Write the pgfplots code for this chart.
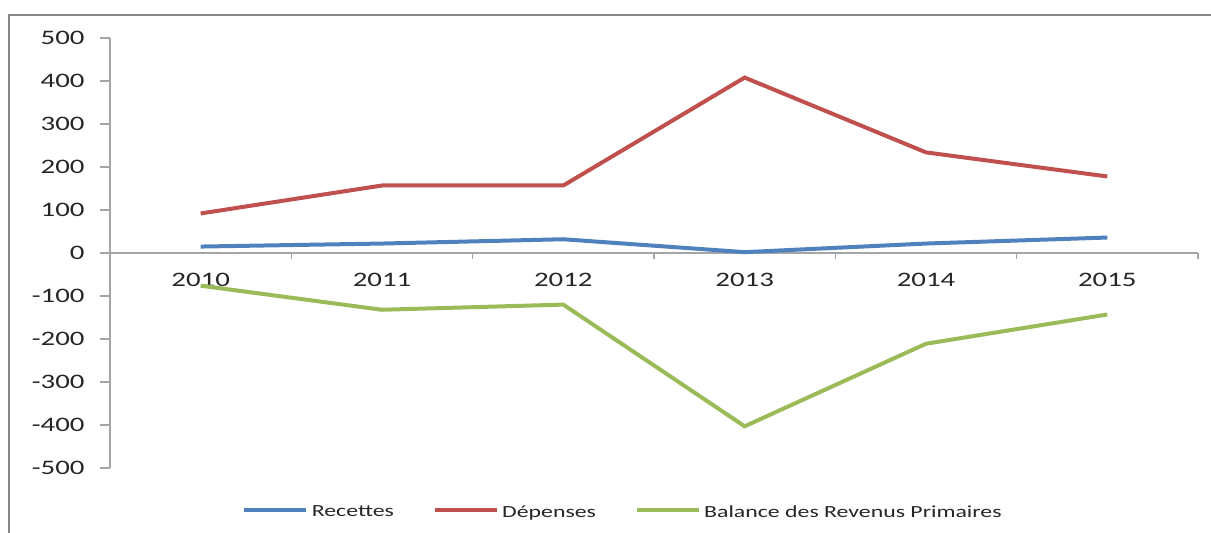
\documentclass[border=0pt]{standalone}
\usepackage{pgfplots}
\pgfplotsset{compat=1.18}
\usepackage{fontspec}
\setmainfont{Carlito}[FakeStretch=1.4]

\definecolor{cblue}{RGB}{79,129,189}
\definecolor{cred}{RGB}{192,80,77}
\definecolor{cgreen}{RGB}{155,187,89}
\definecolor{axgray}{RGB}{165,165,165}
\definecolor{framegray}{RGB}{134,134,134}

\begin{document}
\begin{tikzpicture}
\begin{axis}[
  at={(0,0)}, anchor=south west,
  scale only axis, width=544pt, height=215pt,
  xmin=-0.5, xmax=5.5, ymin=-500, ymax=500,
  axis x line=middle, axis y line=left,
  axis line style={axgray, line width=0.6pt, -},
  hide obscured x ticks=false, hide obscured y ticks=false,
  tick align=outside,
  xtick={0,...,5}, xticklabels={2010,2011,2012,2013,2014,2015},
  major x tick style={draw=none},
  minor xtick={-0.5,0.5,...,5.5},
  minor tick length=3pt, major tick length=5pt,
  minor x tick style={axgray, line width=0.6pt},
  ytick={-500,-400,...,500},
  yticklabels={-500,-400,-300,-200,-100,0,100,200,300,400,500},
  y tick style={axgray, line width=0.6pt},
  xticklabel style={anchor=center, yshift=-8.5pt, font=\fontsize{10.3}{12}\selectfont, text=black!85},
  yticklabel style={anchor=east, inner sep=0pt, xshift=-7.5pt, font=\fontsize{10.3}{12}\selectfont, text=black!85},
  legend style={at={(axis description cs:0.1212,-0.1044)}, anchor=west, draw=none, fill=none, inner sep=0pt,
    font=\fontsize{8.5}{10}\selectfont, text=black!85,
    nodes={inner xsep=1.8pt},
    /tikz/every even column/.append style={column sep=17.5pt}},
  legend columns=-1, legend cell align=left,
  legend image code/.code={\draw[#1] (0pt,1.25pt) -- (31pt,1.25pt);},
]
\addplot[cblue, line width=2pt] coordinates {(0,15)(1,22)(2,32)(3,2)(4,22)(5,36)};
\addlegendentry{Recettes}
\addplot[cred, line width=2pt] coordinates {(0,92)(1,157)(2,157)(3,408)(4,234)(5,178)};
\addlegendentry{Dépenses}
\addplot[cgreen, line width=2pt] coordinates {(0,-76)(1,-132)(2,-120)(3,-403)(4,-211)(5,-143)};
\addlegendentry{Balance des Revenus Primaires}
\end{axis}
\draw[framegray, line width=1pt] (-50.5pt,-40pt) -- (-50.5pt,226.5pt) -- (560pt,226.5pt);
\pgfresetboundingbox
\path (-55pt,-32pt) rectangle (550.5pt,234pt);
\end{tikzpicture}
\end{document}
